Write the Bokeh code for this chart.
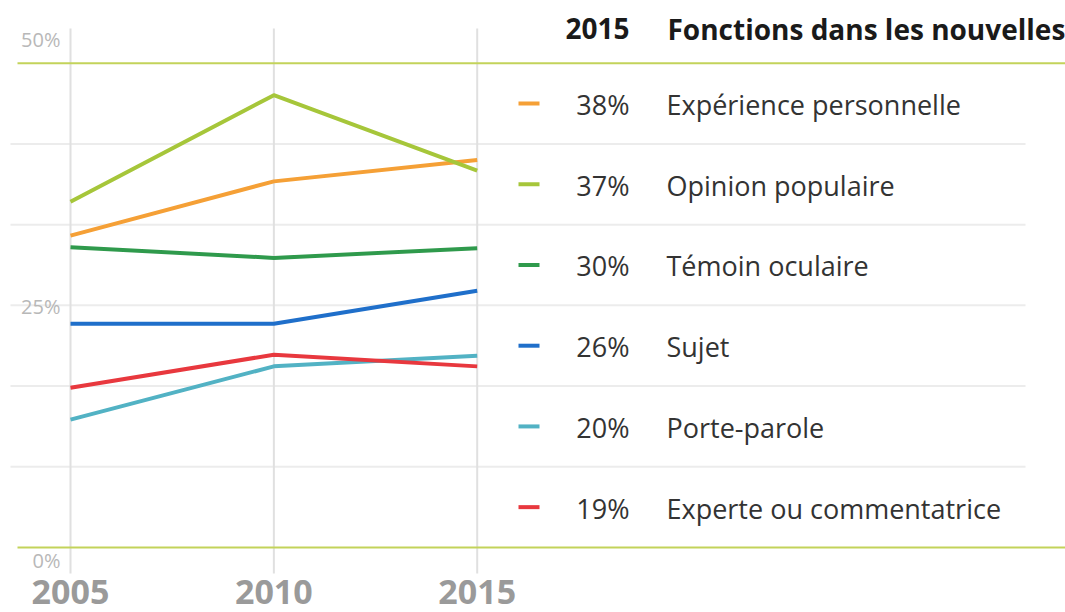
from bokeh.plotting import figure
from bokeh.models import Range1d, ColumnDataSource
from bokeh.core.properties import value
from bokeh.embed import file_html
from bokeh.resources import INLINE

# ---------------- data ----------------
years = [2005, 2010, 2015]
categories = ["Expérience personnelle", "Opinion populaire", "Témoin oculaire",
              "Sujet", "Porte-parole", "Experte ou commentatrice"]
labels_2015 = ["38%", "37%", "30%", "26%", "20%", "19%"]
experience = [32.2, 37.8, 40.0]
opinion = [35.7, 46.7, 38.9]
temoin = [31.0, 29.9, 30.9]
sujet = [23.1, 23.1, 26.5]
porte_parole = [13.2, 18.7, 19.8]
experte = [16.5, 19.9, 18.7]
series = [experience, opinion, temoin, sujet, porte_parole, experte]
colors = ["#f5a036", "#a6c63a", "#2f9a4c", "#1f6fca", "#52b2c4", "#e8383e"]
y_ticks = [0, 25, 50]
y_tick_labels = ["0%", "25%", "50%"]
header_year = "2015"
header_title = "Fonctions dans les nouvelles"

# ---------------- layout ----------------
W, H = 1065, 612
X0_PX, PX_PER_YEAR = 70.0, 40.67      # screen px of first year, px per year
Y0_PX, PX_PER_PCT = 547.0, 9.686      # screen px of 0 %, px per percent

def sx(screen_x):
    return years[0] + (screen_x - X0_PX) / PX_PER_YEAR

def sy(screen_y):
    return (Y0_PX - screen_y) / PX_PER_PCT

p = figure(width=W, height=H, output_backend="svg", toolbar_location=None,
           x_axis_type=None, y_axis_type=None,
           x_range=Range1d(sx(0), sx(W)), y_range=Range1d(sy(H), sy(0)),
           min_border=0, min_border_left=0, min_border_right=0,
           min_border_top=0, min_border_bottom=0)
p.outline_line_color = None
p.xgrid.visible = False
p.ygrid.visible = False
p.background_fill_color = "white"
p.border_fill_color = "white"

FONT = value("Open Sans")
top_val = max(y_ticks)
n_rows = len(categories)

# row separators (light gray)
sep_y = [top_val * k / n_rows for k in range(1, n_rows)]
p.segment(x0=[sx(10)] * len(sep_y), x1=[sx(1025)] * len(sep_y), y0=sep_y, y1=sep_y,
          line_color="#ececec", line_width=2)

# vertical grid lines at the years
p.segment(x0=years, x1=years, y0=[sy(573)] * 3, y1=[sy(28)] * 3,
          line_color="#e0e0e0", line_width=2)

# olive boundary lines at 0 and 50 %
bounds = [min(y_ticks), max(y_ticks)]
p.segment(x0=[sx(17)] * 2, x1=[sx(1070)] * 2, y0=bounds, y1=bounds,
          line_color="#c3d35a", line_width=2)

# series lines
for vals, col in zip(series, colors):
    p.line(years, vals, line_color=col, line_width=4, line_join="round")

# y tick labels
ysrc = ColumnDataSource(dict(y=y_ticks, t=y_tick_labels, off=[13, 1, -24]))
p.text(x=sx(60), y="y", text="t", y_offset="off", source=ysrc, text_font=FONT,
       text_font_size="20px", text_color="#b8b8b8", text_align="right",
       text_baseline="middle")

# year labels
p.text(x=years, y=[sy(591)] * 3, text=[str(y) for y in years], text_font=FONT,
       text_font_size="34px", text_font_style="bold", text_color="#9a9a9a",
       text_align="center", text_baseline="middle")

# legend / table
row_y = [top_val * (2 * (n_rows - i) - 1) / (2 * n_rows) for i in range(n_rows)]
p.segment(x0=[sx(518)] * n_rows, x1=[sx(539)] * n_rows, y0=row_y, y1=row_y,
          line_color=colors, line_width=4)
p.text(x=[sx(629)] * n_rows, y=row_y, text=labels_2015, y_offset=1, text_font=FONT,
       text_font_size="27px", text_color="#333333", text_align="right",
       text_baseline="middle")
p.text(x=[sx(666)] * n_rows, y=row_y, text=categories, y_offset=1, text_font=FONT,
       text_font_size="27px", text_color="#333333", text_align="left",
       text_baseline="middle")

# header
p.text(x=[sx(629)], y=[sy(28)], text=[header_year], text_font=FONT,
       text_font_size="28px", text_font_style="bold", text_color="#1a1a1a",
       text_align="right", text_baseline="middle")
p.text(x=[sx(667)], y=[sy(28)], text=[header_title], text_font=FONT,
       text_font_size="28px", text_font_style="bold", text_color="#1a1a1a",
       text_align="left", text_baseline="middle")

open("out.html", "w").write(file_html(p, INLINE))
